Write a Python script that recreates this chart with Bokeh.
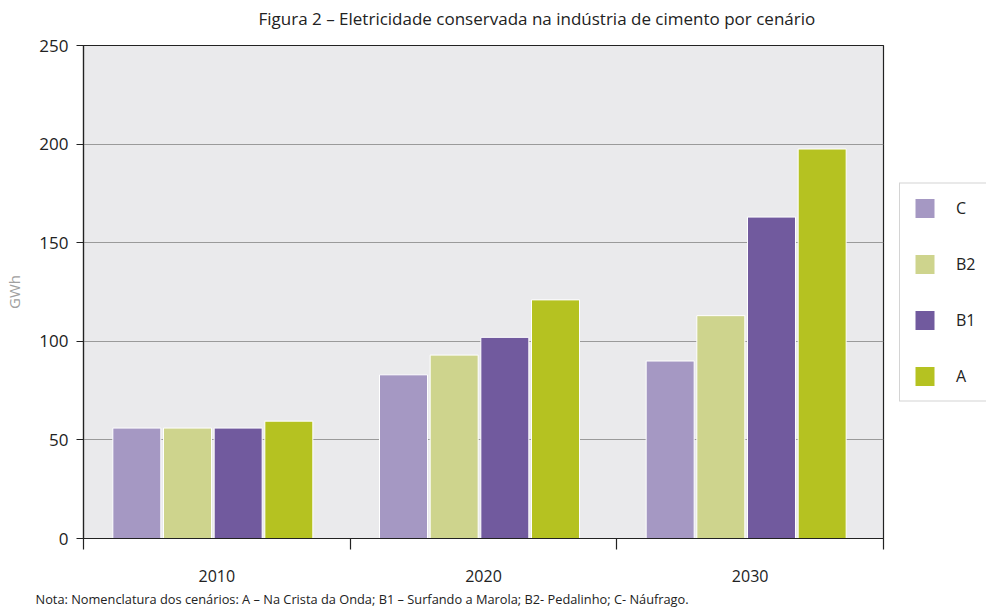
from bokeh.plotting import figure
from bokeh.models import (ColumnDataSource, FixedTicker, Legend, LegendItem, Title, Range1d)
from bokeh.embed import file_html
from bokeh.resources import INLINE

years = ["2010", "2020", "2030"]
scenarios = ["C", "B2", "B1", "A"]
values_C = [56, 83, 90]
values_B2 = [56, 93, 113]
values_B1 = [56, 102, 163]
values_A = [59.5, 121, 197.5]
colors = ["#A598C3", "#CED48D", "#715A9E", "#B5C221"]
y_ticks = [0, 50, 100, 150, 200, 250]

series = [values_C, values_B2, values_B1, values_A]
offsets = [0.2, 0.39, 0.58, 0.77]
bar_w = 0.18

FONT = "Open Sans"

p = figure(frame_width=800, frame_height=493, output_backend="svg", toolbar_location=None,
           x_range=Range1d(0, 3), y_range=Range1d(0, 250),
           min_border_left=83, min_border_top=45, min_border_right=103, min_border_bottom=0)

p.border_fill_color = "white"
p.background_fill_color = "#EAEAEC"
p.outline_line_color = "#222222"
p.outline_line_width = 1.2

renderers = []
for s, vals, off, col in zip(scenarios, series, offsets, colors):
    src = ColumnDataSource(dict(x=[i + off for i in range(len(years))], top=vals))
    r = p.vbar(x="x", top="top", width=bar_w, bottom=0, source=src,
               fill_color=col, line_color="white", line_width=1)
    renderers.append((s, r))

# grid
p.xgrid.grid_line_color = None
p.ygrid.grid_line_color = "#9A9A9A"
p.ygrid.grid_line_width = 1
p.ygrid.ticker = FixedTicker(ticks=y_ticks)

# y axis
p.yaxis.ticker = FixedTicker(ticks=y_ticks)
p.yaxis.axis_line_color = "#222222"
p.yaxis.axis_line_width = 1.2
p.yaxis.major_tick_line_color = "#222222"
p.yaxis.major_tick_out = 7
p.yaxis.major_tick_in = 0
p.yaxis.minor_tick_line_color = None
p.yaxis.major_label_text_font = FONT
p.yaxis.major_label_text_font_size = "17px"
p.yaxis.major_label_text_color = "#222222"
p.yaxis.major_label_standoff = 8
p.yaxis.axis_label = "GWh"
p.yaxis.axis_label_text_font = FONT
p.yaxis.axis_label_text_font_style = "normal"
p.yaxis.axis_label_text_font_size = "15px"
p.yaxis.axis_label_text_color = "#A0A0A0"
p.yaxis.axis_label_standoff = 12

# x axis
p.xaxis.ticker = FixedTicker(ticks=[i + 0.5 for i in range(len(years))],
                             minor_ticks=[0, 1, 2, 3])
p.xaxis.major_label_overrides = {i + 0.5: y for i, y in enumerate(years)}
p.xaxis.axis_line_color = "#222222"
p.xaxis.axis_line_width = 1.2
p.xaxis.major_tick_line_color = None
p.xaxis.major_tick_out = 0
p.xaxis.major_tick_in = 0
p.xaxis.minor_tick_line_color = "#222222"
p.xaxis.minor_tick_line_width = 1.2
p.xaxis.minor_tick_out = 11
p.xaxis.minor_tick_in = 0
p.xaxis.major_label_standoff = 20
p.xaxis.major_label_text_font = FONT
p.xaxis.major_label_text_font_size = "16px"
p.xaxis.major_label_text_color = "#222222"

# spacer between title and frame
p.add_layout(Title(text=" ", text_font_size="8px", standoff=0), "above")

# title
p.title.text = "Figura 2 \u2013 Eletricidade conservada na ind\u00fastria de cimento por cen\u00e1rio"
p.title.align = "left"
p.title.offset = 175
p.title.standoff = 9
p.title.text_font = FONT
p.title.text_font_style = "normal"
p.title.text_font_size = "17px"
p.title.text_color = "#222222"

note = Title(text="Nota: Nomenclatura dos cen\u00e1rios: A \u2013 Na Crista da Onda; B1 \u2013 Surfando a Marola; B2- Pedalinho; C- N\u00e1ufrago.",
             align="left", offset=-48, text_font=FONT,
             text_font_style="normal", text_font_size="12.8px", text_color="#222222",
             standoff=7)
p.add_layout(note, "below")

legend = Legend(items=[LegendItem(label=s, renderers=[r]) for s, r in renderers],
                location="center_left", orientation="vertical",
                glyph_width=25, glyph_height=25, spacing=31,
                padding=12, label_standoff=19, label_width=17,
                label_text_font=FONT, label_text_font_size="16px",
                label_text_color="#222222",
                border_line_color="#AAAAAA", border_line_width=1,
                background_fill_color="white", background_fill_alpha=1,
                margin=16)
p.add_layout(legend, "right")

open("out.html", "w").write(file_html(p, INLINE))
